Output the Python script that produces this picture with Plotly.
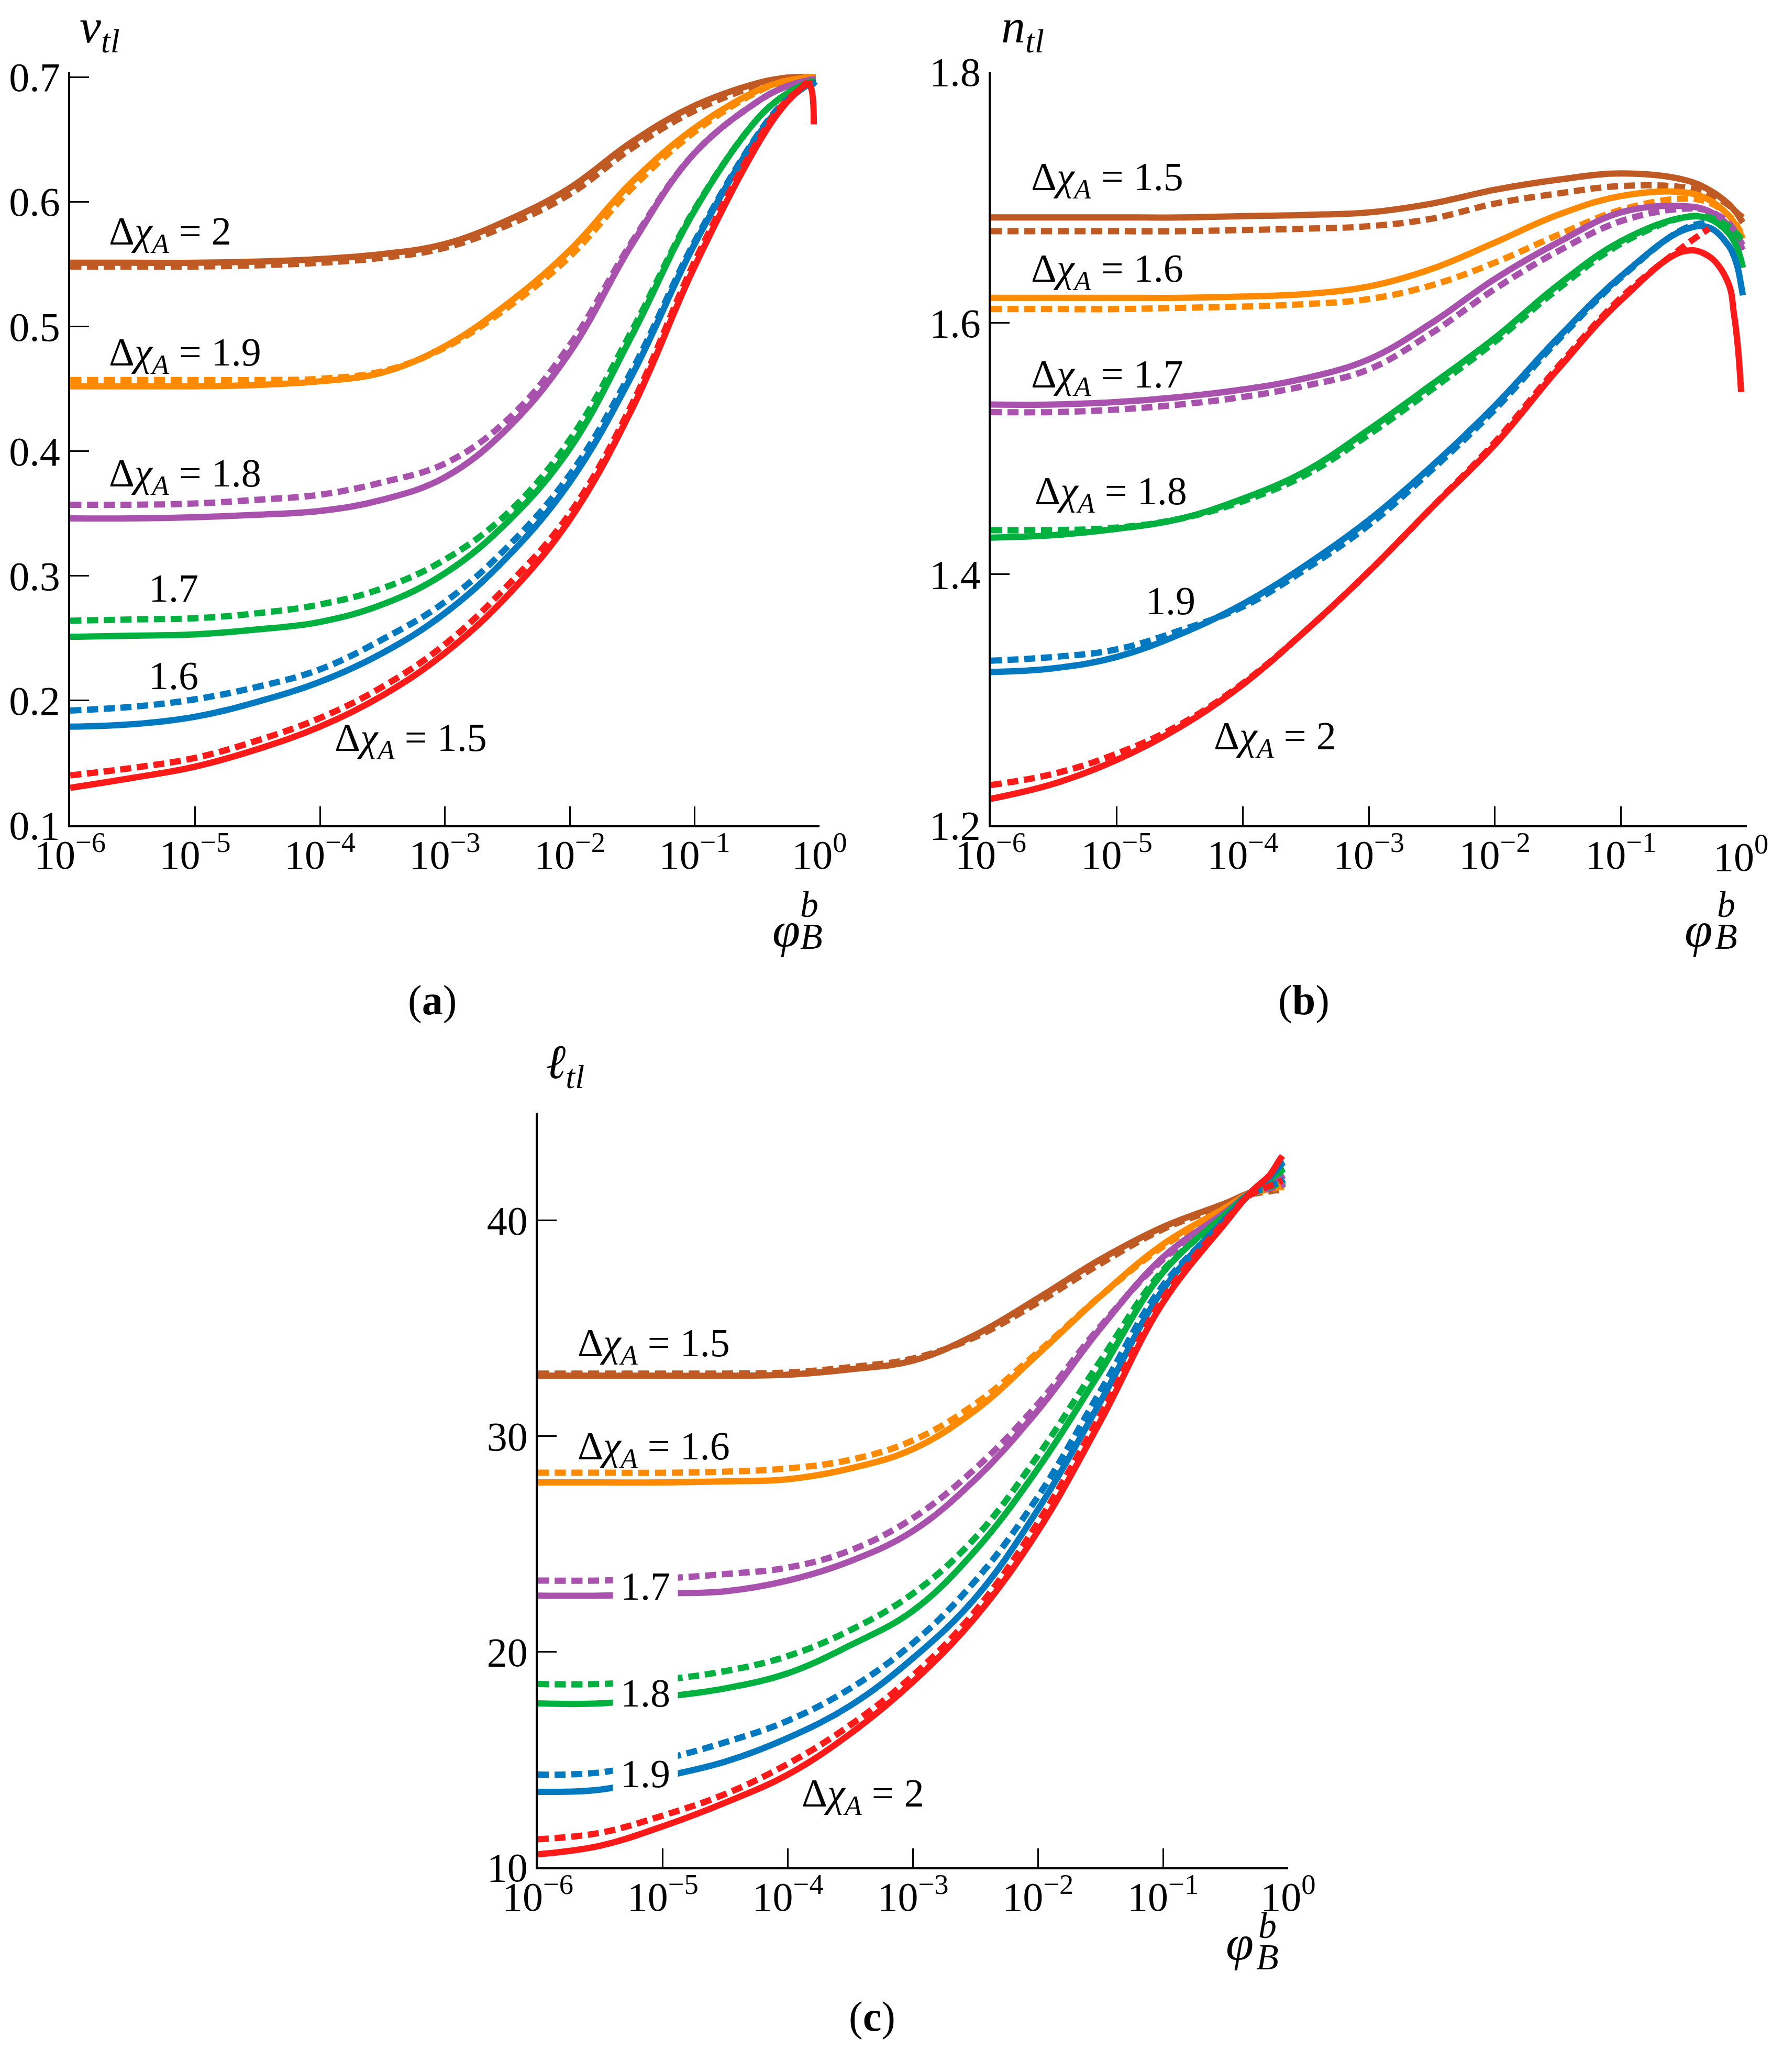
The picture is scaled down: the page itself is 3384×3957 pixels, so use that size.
import plotly.graph_objects as go

# shared abscissa (phi_B^b), log-spaced samples
PHI = [1e-6, 3.16e-6, 1e-5, 3.16e-5, 1e-4, 3.16e-4, 1e-3, 3.16e-3, 1e-2, 3.16e-2,
       0.1, 0.316, 0.5, 0.71, 0.79, 0.85, 0.9, 0.93]

# curve colours, from the top curve down to the bottom curve
COLORS = ["#BF5A24", "#FF8A00", "#A852AE", "#00B140", "#0079C1", "#FF1A1A"]

# (a) v_tl, rows top -> bottom (dchi = 2 ... 1.5)
V_SOLID = [
    [0.551, 0.551, 0.551, 0.552, 0.554, 0.558, 0.566, 0.585, 0.611, 0.648, 0.677, 0.695, 0.699, 0.700, 0.700, 0.700, 0.700, 0.700],
    [0.452, 0.452, 0.452, 0.453, 0.456, 0.463, 0.484, 0.518, 0.561, 0.616, 0.659, 0.689, 0.696, 0.699, 0.700, 0.700, 0.700, 0.700],
    [0.346, 0.346, 0.347, 0.349, 0.352, 0.361, 0.379, 0.418, 0.479, 0.566, 0.639, 0.680, 0.691, 0.696, 0.697, 0.698, 0.698, 0.698],
    [0.251, 0.252, 0.253, 0.257, 0.263, 0.277, 0.302, 0.343, 0.402, 0.493, 0.593, 0.666, 0.684, 0.693, 0.695, 0.696, 0.696, 0.696],
    [0.179, 0.181, 0.187, 0.199, 0.215, 0.238, 0.270, 0.315, 0.375, 0.461, 0.566, 0.652, 0.677, 0.690, 0.693, 0.694, 0.694, 0.693],
    [0.130, 0.138, 0.147, 0.161, 0.179, 0.204, 0.238, 0.284, 0.345, 0.434, 0.548, 0.645, 0.675, 0.691, 0.695, 0.692, 0.662, None],
]
V_DASH = [
    [0.548, 0.548, 0.548, 0.549, 0.551, 0.555, 0.563, 0.581, 0.606, 0.643, 0.673, 0.693, 0.698, 0.700, 0.700, 0.700, 0.700, 0.700],
    [0.457, 0.457, 0.457, 0.457, 0.458, 0.464, 0.483, 0.515, 0.556, 0.611, 0.656, 0.688, 0.696, 0.699, 0.700, 0.700, 0.700, 0.700],
    [0.357, 0.357, 0.358, 0.361, 0.365, 0.375, 0.390, 0.425, 0.485, 0.568, 0.639, 0.680, 0.691, 0.696, 0.697, 0.698, 0.698, 0.698],
    [0.264, 0.265, 0.266, 0.270, 0.277, 0.290, 0.313, 0.350, 0.409, 0.497, 0.594, 0.666, 0.684, 0.693, 0.695, 0.696, 0.697, 0.697],
    [0.192, 0.195, 0.201, 0.211, 0.225, 0.249, 0.279, 0.323, 0.381, 0.465, 0.568, 0.653, 0.678, 0.690, 0.693, 0.694, 0.695, 0.695],
    [0.140, 0.146, 0.154, 0.168, 0.186, 0.211, 0.245, 0.292, 0.350, 0.438, 0.552, 0.648, 0.677, 0.691, 0.694, 0.695, 0.695, None],
]

# (b) n_tl, rows top -> bottom (dchi = 1.5 ... 2)
N_SOLID = [
    [1.684, 1.684, 1.684, 1.684, 1.685, 1.686, 1.688, 1.695, 1.706, 1.714, 1.719, 1.714, 1.706, 1.695, 1.690, 1.686, 1.682, 1.680],
    [1.620, 1.620, 1.620, 1.620, 1.621, 1.623, 1.629, 1.643, 1.664, 1.686, 1.701, 1.704, 1.698, 1.686, 1.680, 1.675, 1.670, 1.667],
    [1.535, 1.535, 1.537, 1.541, 1.547, 1.556, 1.571, 1.600, 1.635, 1.664, 1.688, 1.693, 1.689, 1.678, 1.672, 1.667, 1.661, 1.658],
    [1.429, 1.431, 1.436, 1.444, 1.460, 1.482, 1.515, 1.551, 1.588, 1.630, 1.665, 1.684, 1.683, 1.672, 1.665, 1.658, 1.650, 1.644],
    [1.322, 1.325, 1.334, 1.352, 1.376, 1.407, 1.443, 1.486, 1.534, 1.588, 1.637, 1.674, 1.676, 1.662, 1.653, 1.643, 1.630, 1.622],
    [1.221, 1.233, 1.252, 1.278, 1.312, 1.355, 1.402, 1.453, 1.503, 1.563, 1.618, 1.657, 1.653, 1.632, 1.607, 1.580, 1.545, None],
]
N_DASH = [
    [1.673, 1.673, 1.673, 1.673, 1.674, 1.675, 1.677, 1.683, 1.695, 1.703, 1.709, 1.708, 1.703, 1.694, 1.690, 1.687, 1.685, 1.684],
    [1.611, 1.611, 1.611, 1.612, 1.613, 1.615, 1.619, 1.630, 1.648, 1.670, 1.690, 1.699, 1.696, 1.686, 1.681, 1.676, 1.672, 1.671],
    [1.529, 1.529, 1.531, 1.535, 1.541, 1.550, 1.563, 1.592, 1.627, 1.657, 1.681, 1.691, 1.689, 1.680, 1.674, 1.669, 1.664, 1.662],
    [1.435, 1.435, 1.437, 1.444, 1.458, 1.479, 1.511, 1.547, 1.585, 1.627, 1.663, 1.684, 1.684, 1.677, 1.673, 1.670, 1.667, 1.666],
    [1.331, 1.334, 1.340, 1.355, 1.374, 1.404, 1.439, 1.483, 1.531, 1.586, 1.636, 1.675, 1.680, None, None, None, None, None],
    [1.232, 1.241, 1.257, 1.280, 1.313, 1.355, 1.402, 1.453, 1.505, 1.565, 1.620, 1.661, 1.675, None, None, None, None, None],
]

# (c) l_tl, rows top -> bottom (dchi = 1.5 ... 2)
L_SOLID = [
    [32.8, 32.8, 32.8, 32.8, 32.85, 33.1, 33.5, 34.7, 36.4, 38.2, 39.7, 40.8, 41.3, 41.5, 41.6, 41.6, 41.65, 41.7],
    [27.85, 27.85, 27.85, 27.9, 28.0, 28.5, 29.4, 31.2, 33.8, 36.5, 38.9, 40.6, 41.3, 41.6, 41.7, 41.8, 41.85, 41.9],
    [22.6, 22.6, 22.7, 22.8, 23.3, 24.2, 25.6, 28.0, 31.2, 35.0, 38.3, 40.4, 41.3, 41.7, 41.85, 41.95, 42.05, 42.1],
    [17.6, 17.6, 17.9, 18.3, 19.0, 20.3, 21.9, 24.7, 28.5, 33.0, 37.6, 40.3, 41.3, 41.9, 42.1, 42.2, 42.35, 42.4],
    [13.5, 13.6, 14.2, 14.9, 16.0, 17.5, 19.7, 22.5, 26.6, 31.6, 36.8, 40.1, 41.3, 42.0, 42.3, 42.5, 42.65, 42.7],
    [10.6, 11.0, 11.9, 13.0, 14.3, 16.2, 18.6, 21.6, 25.6, 30.7, 36.2, 39.9, 41.3, 42.1, 42.5, 42.8, 43.0, None],
]
L_DASH = [
    [32.9, 32.9, 32.9, 32.9, 32.95, 33.2, 33.6, 34.6, 36.2, 38.0, 39.6, 40.7, 41.2, 41.35, 41.4, 41.4, 41.4, 41.4],
    [28.3, 28.3, 28.3, 28.35, 28.5, 28.9, 29.8, 31.5, 33.9, 36.5, 38.8, 40.5, 41.2, 41.45, 41.5, 41.55, 41.55, 41.6],
    [23.3, 23.3, 23.4, 23.6, 23.9, 24.7, 26.2, 28.5, 31.5, 35.1, 38.2, 40.3, 41.2, 41.5, 41.55, 41.6, 41.65, 41.7],
    [18.5, 18.5, 18.7, 19.1, 19.8, 21.0, 22.7, 25.3, 29.1, 33.5, 37.7, 40.2, 41.2, 41.55, 41.65, 41.7, 41.75, 41.8],
    [14.3, 14.4, 15.0, 15.8, 16.8, 18.3, 20.4, 23.3, 27.2, 32.1, 37.0, 40.0, 41.2, 41.6, 41.7, 41.8, 41.85, 41.9],
    [11.3, 11.6, 12.4, 13.4, 14.8, 16.6, 18.9, 21.9, 26.0, 31.0, 36.4, 40.0, 41.2, 41.6, 41.7, 41.8, 41.85, None],
]

LABELS_V = ["2", "1.9", "1.8", "1.7", "1.6", "1.5"]
LABELS_N = ["1.5", "1.6", "1.7", "1.8", "1.9", "2"]
LABELS_L = ["1.5", "1.6", "1.7", "1.8", "1.9", "2"]

X_TICKS = [1e-6, 1e-5, 1e-4, 1e-3, 1e-2, 1e-1, 1]
X_TICKTEXT = ["10<sup>\u22126</sup>", "10<sup>\u22125</sup>", "10<sup>\u22124</sup>",
              "10<sup>\u22123</sup>", "10<sup>\u22122</sup>", "10<sup>\u22121</sup>", "10<sup>0</sup>"]
V_TICKS = [0.1, 0.2, 0.3, 0.4, 0.5, 0.6, 0.7]
N_TICKS = [1.2, 1.4, 1.6, 1.8]
L_TICKS = [10, 20, 30, 40]

W, H = 3384, 3957
FONT = "Liberation Serif, Times New Roman, serif"
LW = 12
DASH = "21px,11px"


def px(x):
    return x / W


def py(y):
    return 1 - y / H


fig = go.Figure()

panels = [
    ("x", "y", V_SOLID, V_DASH),
    ("x2", "y2", N_SOLID, N_DASH),
    ("x3", "y3", L_SOLID, L_DASH),
]
for xa, ya, solid, dash in panels:
    for i, color in enumerate(COLORS):
        fig.add_trace(go.Scatter(x=PHI, y=solid[i], mode="lines", xaxis=xa, yaxis=ya,
                                 line=dict(color=color, width=LW, shape="spline", smoothing=1.1)))
        fig.add_trace(go.Scatter(x=PHI, y=dash[i], mode="lines", xaxis=xa, yaxis=ya,
                                 line=dict(color=color, width=LW, dash=DASH, shape="spline", smoothing=1.1)))

axis_common = dict(showline=True, linecolor="black", linewidth=3.5, ticks="inside",
                   ticklen=36, tickwidth=3, tickcolor="black", showgrid=False,
                   zeroline=False, mirror=False, automargin=False,
                   ticklabeloverflow="allow",
                   tickfont=dict(family=FONT, size=78, color="black"))

x_common = dict(axis_common, type="log", range=[-6, 0], tickvals=X_TICKS, ticktext=X_TICKTEXT,
                ticklabelstandoff=-14)

# panel (b) sits at the right edge: its last label is drawn as an annotation instead
x2_text = X_TICKTEXT[:-1] + [""]

fig.update_layout(
    width=W, height=H, autosize=False,
    margin=dict(l=0, r=0, t=0, b=0, pad=0),
    paper_bgcolor="white", plot_bgcolor="white",
    showlegend=False,
    xaxis=dict(x_common, domain=[px(134), px(1565)], anchor="y"),
    yaxis=dict(axis_common, domain=[py(1576), py(137)], range=[0.1, 0.7042],
               tickvals=V_TICKS, ticktext=[f"{v:.1f}" for v in V_TICKS], anchor="x"),
    xaxis2=dict(x_common, domain=[px(1892), px(3336)], anchor="y2", ticktext=x2_text),
    yaxis2=dict(axis_common, domain=[py(1576), py(137)], range=[1.2, 1.8],
                tickvals=N_TICKS, ticktext=[f"{v:.1f}" for v in N_TICKS], anchor="x2"),
    xaxis3=dict(x_common, domain=[px(1027), px(2460)], anchor="y3"),
    yaxis3=dict(axis_common, domain=[py(3566), py(2125)], range=[10, 45],
                tickvals=L_TICKS, ticktext=[str(v) for v in L_TICKS], anchor="x3"),
)

ann = []
TXT = dict(family=FONT, size=76, color="black")

ann.append(dict(x=px(3324), y=py(1630), xref="paper", yref="paper", showarrow=False,
                xanchor="center", yanchor="middle", text=X_TICKTEXT[-1],
                font=dict(family=FONT, size=78, color="black")))


def dchi(val, full):
    if full:
        return "\u0394<i>\u03c7</i><sub><i>A</i></sub> = " + val
    return val


# curve labels: (log10 x, y, full text?)
place_v = [(-5.70, 0.574, True), (-5.70, 0.477, True), (-5.70, 0.380, True),
           (-5.38, 0.290, False), (-5.38, 0.220, False), (-3.89, 0.168, True)]
for lab, (lx, ly, full) in zip(LABELS_V, place_v):
    ann.append(dict(x=lx, y=ly, xref="x", yref="y", text=dchi(lab, full), showarrow=False,
                    xanchor="left", yanchor="middle", font=TXT))

place_n = [(-5.69, 1.714, True), (-5.69, 1.641, True), (-5.69, 1.557, True),
           (-5.66, 1.464, True), (-4.78, 1.379, False), (-4.24, 1.269, True)]
for lab, (lx, ly, full) in zip(LABELS_N, place_n):
    ann.append(dict(x=lx, y=ly, xref="x2", yref="y2", text=dchi(lab, full), showarrow=False,
                    xanchor="left", yanchor="middle", font=TXT))

# the numeric labels of (c) sit in a white box that breaks the curves
place_l = [(-5.69, 34.2, True, False), (-5.69, 29.4, True, False), (-5.14, 23.05, False, True),
           (-5.14, 18.1, False, True), (-5.14, 14.35, False, True), (-3.90, 13.3, True, False)]
for lab, (lx, ly, full, box) in zip(LABELS_L, place_l):
    a = dict(x=lx, y=ly, xref="x3", yref="y3", text=dchi(lab, full), showarrow=False,
             yanchor="middle", font=TXT)
    if box:
        a.update(xanchor="center", bgcolor="white", borderpad=14)
    else:
        a.update(xanchor="left")
    ann.append(a)

# axis titles
TITLE = dict(family=FONT, size=92, color="black")
for x0, y0, sym in [(150, 56, "<i>v</i>"), (1910, 56, "<i>n</i>"), (1040, 2034, "<i>\u2113</i>")]:
    ann.append(dict(x=px(x0), y=py(y0), xref="paper", yref="paper", showarrow=False,
                    xanchor="left", yanchor="middle",
                    text=sym + "<sub><i>tl</i></sub>", font=TITLE))

# phi_B^b labels at the right end of each x axis
for xe, yb in [(1565, 1576), (3336, 1576), (2460, 3566)]:
    ann.append(dict(x=px(xe - 64), y=py(yb + 200), xref="paper", yref="paper", showarrow=False,
                    text="<i>\u03c6</i>", font=dict(family=FONT, size=96, color="black")))
    ann.append(dict(x=px(xe - 16), y=py(yb + 212), xref="paper", yref="paper", showarrow=False,
                    text="<i>B</i>", font=dict(family=FONT, size=70, color="black")))
    ann.append(dict(x=px(xe - 20), y=py(yb + 152), xref="paper", yref="paper", showarrow=False,
                    text="<i>b</i>", font=dict(family=FONT, size=70, color="black")))

# panel letters
for x0, y0, letter in [(777, 1910, "a"), (2541, 1910, "b"), (1665, 3898, "c")]:
    ann.append(dict(x=px(x0), y=py(y0), xref="paper", yref="paper", showarrow=False,
                    text="(<b>" + letter + "</b>)", font=dict(family=FONT, size=80, color="black")))

fig.update_layout(annotations=ann)

# drop the page's default body margin so the figure fills the window exactly
fig.write_html("out.html", config={"displayModeBar": False},
               post_script="document.body.style.margin='0';document.body.style.overflow='hidden';")
